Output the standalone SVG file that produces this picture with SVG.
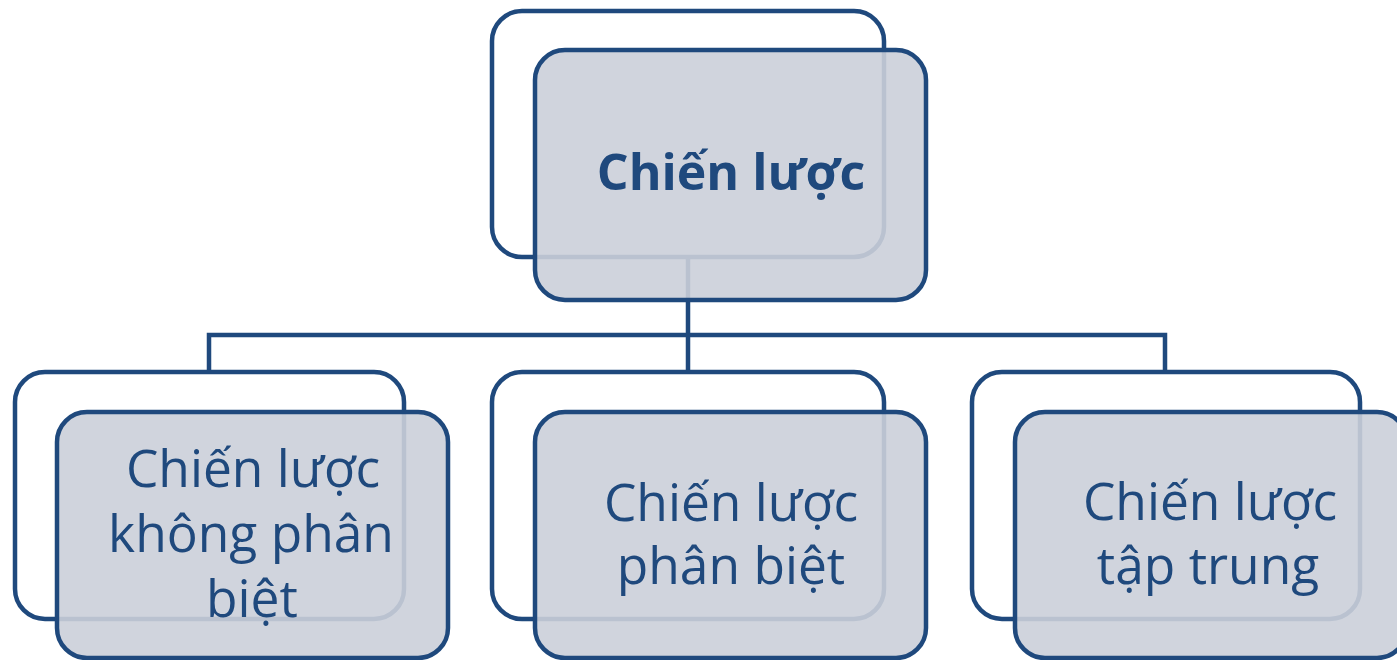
<svg xmlns="http://www.w3.org/2000/svg" width="1397" height="660" viewBox="0 0 1397 660">
<style>
.back{fill:#ffffff;stroke:#1f497d;stroke-width:4.5}
.front{fill:#cbcfd9;fill-opacity:0.9;stroke:#1f497d;stroke-width:4.5}
.conn{fill:none;stroke:#1f497d;stroke-width:4.5}
.t{font-family:"Open Sans","Liberation Sans",sans-serif;font-size:51.5px;fill:#1f497d;text-anchor:middle}
.tb{font-weight:bold;font-size:50px}
</style>
<rect width="1397" height="660" fill="#ffffff"/>
<g id="connectors">
<path class="conn" d="M688 257 V335 M209 372 V335 H1165 V372 M688 335 V372"/>
</g>
<g id="node-top">
<rect class="back" x="492" y="11" width="392" height="246" rx="30"/>
<rect class="front" x="535" y="50" width="391" height="250" rx="30"/>
<text class="t tb" x="731" y="190">Chiến lược</text>
</g>
<g id="node-left">
<rect class="back" x="15" y="372" width="389" height="247" rx="30"/>
<rect class="front" x="57" y="412" width="391" height="246" rx="30"/>
<text class="t" x="253" y="487">Chiến lược</text>
<text class="t" x="251" y="552">không phân</text>
<text class="t" x="252" y="617">biệt</text>
</g>
<g id="node-middle">
<rect class="back" x="492" y="372" width="392" height="247" rx="30"/>
<rect class="front" x="535" y="412" width="391" height="246" rx="30"/>
<text class="t" x="731" y="521">Chiến lược</text>
<text class="t" x="731" y="584">phân biệt</text>
</g>
<g id="node-right">
<rect class="back" x="972" y="372" width="388" height="247" rx="30"/>
<rect class="front" x="1015" y="412" width="392" height="246" rx="30"/>
<text class="t" x="1210" y="520">Chiến lược</text>
<text class="t" x="1208" y="584">tập trung</text>
</g>
</svg>
